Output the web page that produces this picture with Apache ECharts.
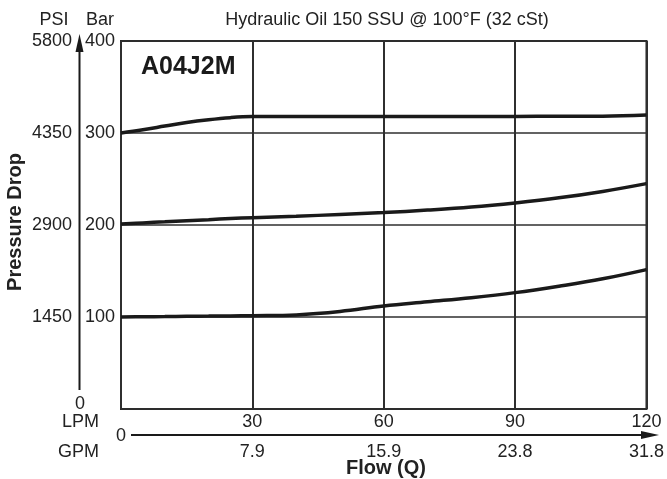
<!DOCTYPE html>
<html>
<head>
<meta charset="utf-8">
<script src="https://cdn.jsdelivr.net/npm/echarts@6/dist/echarts.min.js"></script>
<style>
html,body{margin:0;padding:0;background:#fff;}
#chart{width:667px;height:479px;}
</style>
</head>
<body>
<div id="chart"></div>
<script>
// ---- data ----
const flowLpm = [0, 5, 10, 15, 20, 25, 30, 40, 50, 60, 70, 80, 90, 100, 110, 120];
const upperBar = [300, 303.5, 307.5, 311.5, 314.5, 316.7, 317.8, 318, 317.8, 317.8, 317.8, 317.8, 318, 318.3, 318.3, 319.5];
const middleBar = [201, 202.3, 203.5, 204.7, 205.8, 207, 208, 209.5, 211.5, 213.5, 216.2, 219.5, 224, 229.5, 236.5, 245];
const lowerBar = [100, 100.3, 100.5, 100.8, 101, 101.2, 101.4, 102.3, 106, 112, 116.5, 121, 126.5, 133.5, 141.5, 151.5];

const lpmTicks = [30, 60, 90, 120];
const gpmTicks = ['7.9', '15.9', '23.8', '31.8'];
const barTicks = [100, 200, 300, 400];
const psiTicks = ['1450', '2900', '4350', '5800'];

const FONT = '"Liberation Sans", Arial, Helvetica, sans-serif';
const INK = '#222';

function pairs(xs, ys) { return xs.map((x, i) => [x, ys[i]]); }

const chart = echarts.init(document.getElementById('chart'), null, {renderer: 'canvas'});

const lineStyle = {color: '#1a1a1a', width: 3.5};

chart.setOption({
  animation: false,
  backgroundColor: '#fff',
  grid: {left: 121, right: 17, top: 41, bottom: 70, show: true, borderColor: '#2a2a2a', borderWidth: 2, backgroundColor: 'transparent'},
  xAxis: [
    {
      type: 'value', min: 0, max: 120, interval: 30, position: 'bottom',
      axisLine: {show: false}, axisTick: {show: false},
      splitLine: {show: true, lineStyle: {color: '#2f2f2f', width: 2}},
      axisLabel: {
        show: true, margin: 4, color: INK, fontSize: 18, fontFamily: FONT,
        formatter: v => { const i = lpmTicks.indexOf(v); return i >= 0 ? String(lpmTicks[i]) : ''; }
      }
    },
    {
      type: 'value', min: 0, max: 120, interval: 30, position: 'bottom', offset: 30,
      axisLine: {show: false}, axisTick: {show: false}, splitLine: {show: false},
      axisLabel: {
        show: true, margin: 4, color: INK, fontSize: 18, fontFamily: FONT,
        formatter: v => { const i = lpmTicks.indexOf(v); return i >= 0 ? gpmTicks[i] : ''; }
      }
    }
  ],
  yAxis: [
    {
      type: 'value', min: 0, max: 400, interval: 100, position: 'left',
      axisLine: {show: false}, axisTick: {show: false},
      splitLine: {show: true, lineStyle: {color: '#2f2f2f', width: 1.5}},
      axisLabel: {
        show: true, margin: 6, color: INK, fontSize: 18, fontFamily: FONT,
        formatter: v => { const i = barTicks.indexOf(v); return i >= 0 ? String(barTicks[i]) : ''; }
      }
    },
    {
      type: 'value', min: 0, max: 400, interval: 100, position: 'left', offset: 45,
      axisLine: {show: false}, axisTick: {show: false}, splitLine: {show: false},
      axisLabel: {
        show: true, margin: 4, color: INK, fontSize: 18, fontFamily: FONT,
        formatter: v => { const i = barTicks.indexOf(v); return i >= 0 ? psiTicks[i] : ''; }
      }
    }
  ],
  series: [
    {type: 'line', data: pairs(flowLpm, upperBar), smooth: 0.4, showSymbol: false, lineStyle: lineStyle, z: 5},
    {type: 'line', data: pairs(flowLpm, middleBar), smooth: 0.4, showSymbol: false, lineStyle: lineStyle, z: 5},
    {type: 'line', data: pairs(flowLpm, lowerBar), smooth: 0.4, showSymbol: false, lineStyle: lineStyle, z: 5}
  ],
  graphic: [
    // header texts
    {type: 'text', x: 54, y: 20, style: {text: 'PSI', font: '18px ' + FONT, fill: INK, textAlign: 'center', textVerticalAlign: 'middle'}},
    {type: 'text', x: 100, y: 20, style: {text: 'Bar', font: '18px ' + FONT, fill: INK, textAlign: 'center', textVerticalAlign: 'middle'}},
    {type: 'text', x: 387, y: 20, style: {text: 'Hydraulic Oil 150 SSU @ 100°F (32 cSt)', font: '18px ' + FONT, fill: INK, textAlign: 'center', textVerticalAlign: 'middle'}},
    // model label
    {type: 'text', x: 141, y: 67, z: 10, style: {text: 'A04J2M', font: 'bold 25px ' + FONT, fill: '#1a1a1a', textAlign: 'left', textVerticalAlign: 'middle'}},
    // vertical arrow
    {type: 'line', shape: {x1: 79.5, y1: 390, x2: 79.5, y2: 48}, style: {stroke: '#1a1a1a', lineWidth: 2}},
    {type: 'polygon', shape: {points: [[79.5, 34], [75.5, 52], [83.5, 52]]}, style: {fill: '#1a1a1a'}},
    {type: 'text', x: 80, y: 404, style: {text: '0', font: '18px ' + FONT, fill: INK, textAlign: 'center', textVerticalAlign: 'middle'}},
    // horizontal arrow
    {type: 'line', shape: {x1: 131, y1: 435, x2: 646, y2: 435}, style: {stroke: '#1a1a1a', lineWidth: 2}},
    {type: 'polygon', shape: {points: [[659, 435], [641, 431], [641, 439]]}, style: {fill: '#1a1a1a'}},
    {type: 'text', x: 121, y: 436, style: {text: '0', font: '18px ' + FONT, fill: INK, textAlign: 'center', textVerticalAlign: 'middle'}},
    {type: 'text', x: 99, y: 422, style: {text: 'LPM', font: '18px ' + FONT, fill: INK, textAlign: 'right', textVerticalAlign: 'middle'}},
    {type: 'text', x: 99, y: 452, style: {text: 'GPM', font: '18px ' + FONT, fill: INK, textAlign: 'right', textVerticalAlign: 'middle'}},
    // axis titles
    {type: 'text', x: 386, y: 468, style: {text: 'Flow (Q)', font: 'bold 20px ' + FONT, fill: INK, textAlign: 'center', textVerticalAlign: 'middle'}},
    {type: 'text', x: 15, y: 222, rotation: Math.PI / 2, style: {text: 'Pressure Drop', font: 'bold 20px ' + FONT, fill: INK, textAlign: 'center', textVerticalAlign: 'middle'}}
  ]
});
</script>
</body>
</html>
